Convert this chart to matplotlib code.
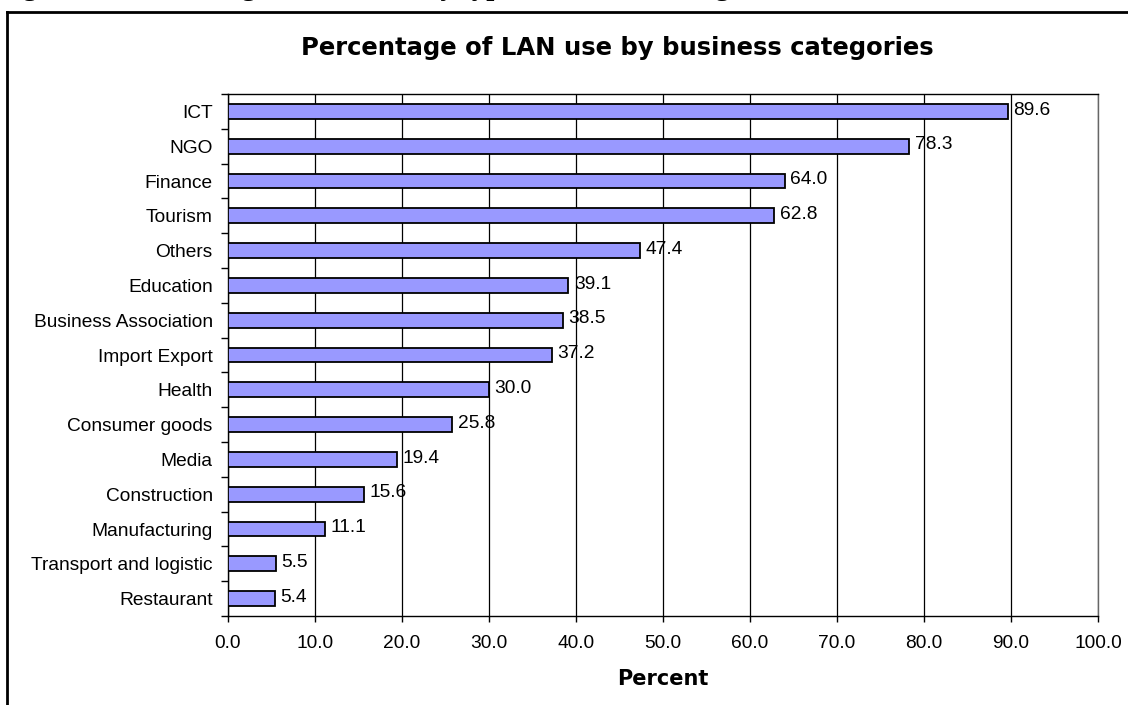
import matplotlib
matplotlib.use("Agg")
import matplotlib.pyplot as plt
import numpy as np
from matplotlib.lines import Line2D
from matplotlib.ticker import FixedLocator, NullFormatter

categories = ["ICT", "NGO", "Finance", "Tourism", "Others", "Education",
              "Business Association", "Import Export", "Health",
              "Consumer goods", "Media", "Construction", "Manufacturing",
              "Transport and logistic", "Restaurant"]
values = [89.6, 78.3, 64.0, 62.8, 47.4, 39.1, 38.5, 37.2, 30.0,
          25.8, 19.4, 15.6, 11.1, 5.5, 5.4]
x_ticks = [0, 10, 20, 30, 40, 50, 60, 70, 80, 90, 100]

W, H = 1128, 705
fig = plt.figure(figsize=(W / 100, H / 100), dpi=100)
fig.patch.set_facecolor("white")

sans = "Liberation Sans"
fs = 13.8

# document caption above the chart frame (runs off the page edge)
fig.text(-3 / W, 1 + 5.0 / H,
         "Figure 12: Percentage of LAN use by type of business categories",
         family="Liberation Serif", weight="bold", fontsize=21,
         ha="left", va="baseline")

# chart frame: top and left edges
fig.add_artist(Line2D([7 / W, 1.02], [1 - 12 / H, 1 - 12 / H],
                      color="black", lw=2, transform=fig.transFigure))
fig.add_artist(Line2D([7 / W, 7 / W], [-0.02, 1 - 12 / H],
                      color="black", lw=2, transform=fig.transFigure))

ax = fig.add_axes([228 / W, 1 - 616 / H, 870 / W, 522 / H])

n = len(categories)
ypos = np.arange(n)[::-1]
ax.barh(ypos, values, height=0.42, color="#9999FF", edgecolor="black",
        linewidth=1.3, zorder=3)

for y, v in zip(ypos, values):
    ax.annotate(f"{v:.1f}", (v, y), xytext=(4, 1), textcoords="offset points",
                ha="left", va="center", fontsize=fs, family=sans, zorder=4)

ax.set_xlim(0, 100)
ax.set_ylim(-0.5, n - 0.5)

ax.set_xticks(x_ticks)
ax.set_xticklabels([f"{t:.1f}" for t in x_ticks], family=sans, fontsize=fs)
ax.tick_params(axis="x", direction="out", length=4, width=1, pad=10)
ax.grid(axis="x", color="black", lw=0.9, zorder=1)

# category boundaries carry the tick marks; centres carry the labels
ax.yaxis.set_major_locator(FixedLocator(np.arange(n + 1) - 0.5))
ax.yaxis.set_major_formatter(NullFormatter())
ax.yaxis.set_minor_locator(FixedLocator(ypos))
ax.set_yticklabels(categories, minor=True, family=sans, fontsize=fs)
ax.tick_params(axis="y", which="major", direction="out", length=5, width=1)
ax.tick_params(axis="y", which="minor", length=0, pad=11)

for s in ax.spines.values():
    s.set_color("black")
    s.set_linewidth(1)
ax.spines["right"].set_color("#666666")

ax.set_xlabel("Percent", family="DejaVu Sans", weight="bold", fontsize=15,
              labelpad=12)
fig.text(617 / W, 1 - 48 / H,
         "Percentage of LAN use by business categories",
         family="DejaVu Sans", weight="bold", fontsize=17.5,
         ha="center", va="center")

fig.savefig("out.png", dpi=100)
